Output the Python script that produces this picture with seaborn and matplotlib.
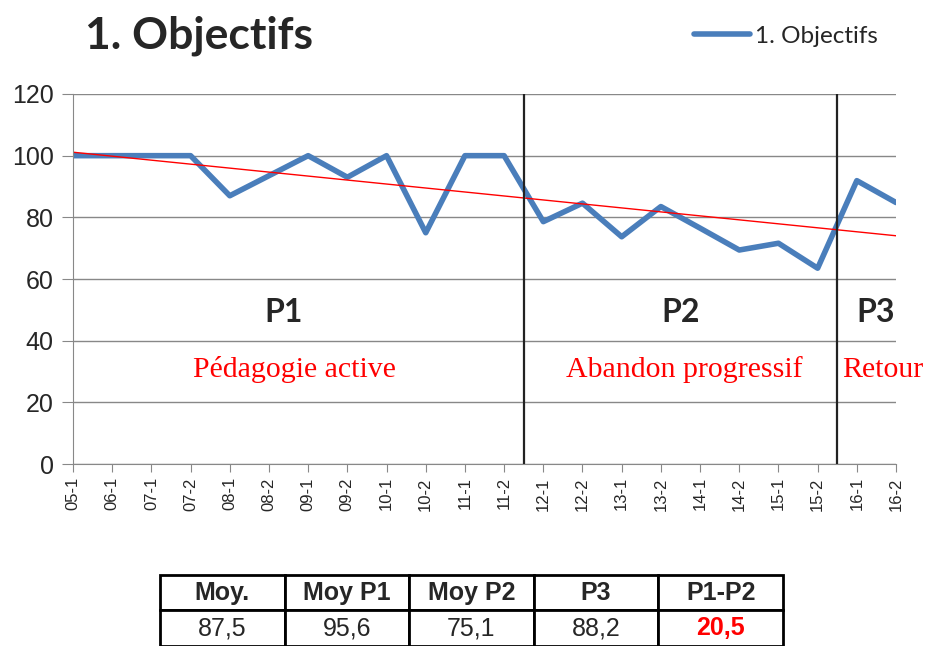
import numpy as np
import pandas as pd
import seaborn as sns
import matplotlib.pyplot as plt

sns.set_style("white")
plt.rcParams['font.family'] = ['Liberation Sans', 'DejaVu Sans']

# Données
semestres = ["05-1", "06-1", "07-1", "07-2", "08-1", "08-2", "09-1", "09-2",
             "10-1", "10-2", "11-1", "11-2", "12-1", "12-2", "13-1", "13-2",
             "14-1", "14-2", "15-1", "15-2", "16-1", "16-2"]
objectifs = [100, 100, 100, 100, 87, 93.5, 100, 93, 100, 75, 100, 100,
             78.6, 84.6, 73.7, 83.5, 76.5, 69.4, 71.6, 63.5, 91.9, 84.8]
ruptures = [11.5, 19.5]
periodes = ["P1", "P2", "P3"]
periodes_desc = ["Pédagogie active", "Abandon progressif", "Retour"]
tab_entetes = ["Moy.", "Moy P1", "Moy P2", "P3", "P1-P2"]
tab_valeurs = ["87,5", "95,6", "75,1", "88,2", "20,5"]

df = pd.DataFrame({"pos": np.arange(len(semestres)), "val": objectifs})

fig = plt.figure(figsize=(9.29, 6.46), dpi=100)
ax = fig.add_axes([0.0786, 0.2817, 0.8859, 0.5728])

sns.lineplot(data=df, x="pos", y="val", ax=ax, color="#4a7ebb", linewidth=4,
             label="1. Objectifs", legend=False)

# droite de tendance (régression linéaire)
a, b = np.polyfit(df["pos"], df["val"], 1)
ax.plot([0, len(semestres) - 1], [b, a * (len(semestres) - 1) + b],
        color="red", linewidth=1)

for r in ruptures:
    ax.axvline(r, color="#222222", linewidth=1.6, zorder=3)

ax.set_xlim(0, len(semestres) - 1)
ax.set_ylim(0, 120)
ax.set_yticks(range(0, 121, 20))
ax.set_xticks(df["pos"])
ax.set_xticklabels(semestres, rotation=90, fontsize=12)
ax.tick_params(axis="y", labelsize=18, length=8, color="#888888", direction="out",
               left=True, pad=6)
ax.tick_params(axis="x", length=6, color="#888888", direction="out", bottom=True)
ax.yaxis.grid(True, color="#888888", linewidth=1)
ax.set_axisbelow(True)
ax.set_xlabel("")
ax.set_ylabel("")
for s in ["top", "right"]:
    ax.spines[s].set_visible(False)
for s in ["left", "bottom"]:
    ax.spines[s].set_color("#888888")

# étiquettes des périodes
pos_p = [5.38, 15.5, 20.48]
pos_d = [5.66, 15.6, 19.62]
for i in range(3):
    ax.text(pos_p[i], 49, periodes[i], ha="center", va="center", fontsize=23,
            fontweight="bold", family="Lato")
    ax.text(pos_d[i], 30.5, periodes_desc[i], ha="left" if i == 2 else "center",
            va="center", fontsize=21.5, color="red", family="Liberation Serif",
            clip_on=False)

fig.text(0.0915, 0.944, "1. Objectifs", fontsize=32, fontweight="bold",
         family="Lato", va="center", ha="left")
fig.legend(loc="center right", bbox_to_anchor=(0.968, 0.944), frameon=False,
           handlelength=2.3, handletextpad=0.2,
           prop={"family": "Lato", "size": 17.5})

# tableau récapitulatif
tax = fig.add_axes([0.1722, 0.0, 0.6706, 0.11])
tax.axis("off")
tab = tax.table(cellText=[tab_entetes, tab_valeurs], cellLoc="center",
                bbox=[0, 0, 1, 1])
tab.auto_set_font_size(False)
for (r, c), cell in tab.get_celld().items():
    cell.set_linewidth(2)
    cell.set_edgecolor("black")
    cell.get_text().set_fontsize(18)
    if r == 0:
        cell.get_text().set_fontweight("bold")
    if r == 1 and c == 4:
        cell.get_text().set_color("red")
        cell.get_text().set_fontweight("bold")

fig.savefig("out.png", dpi=100)
